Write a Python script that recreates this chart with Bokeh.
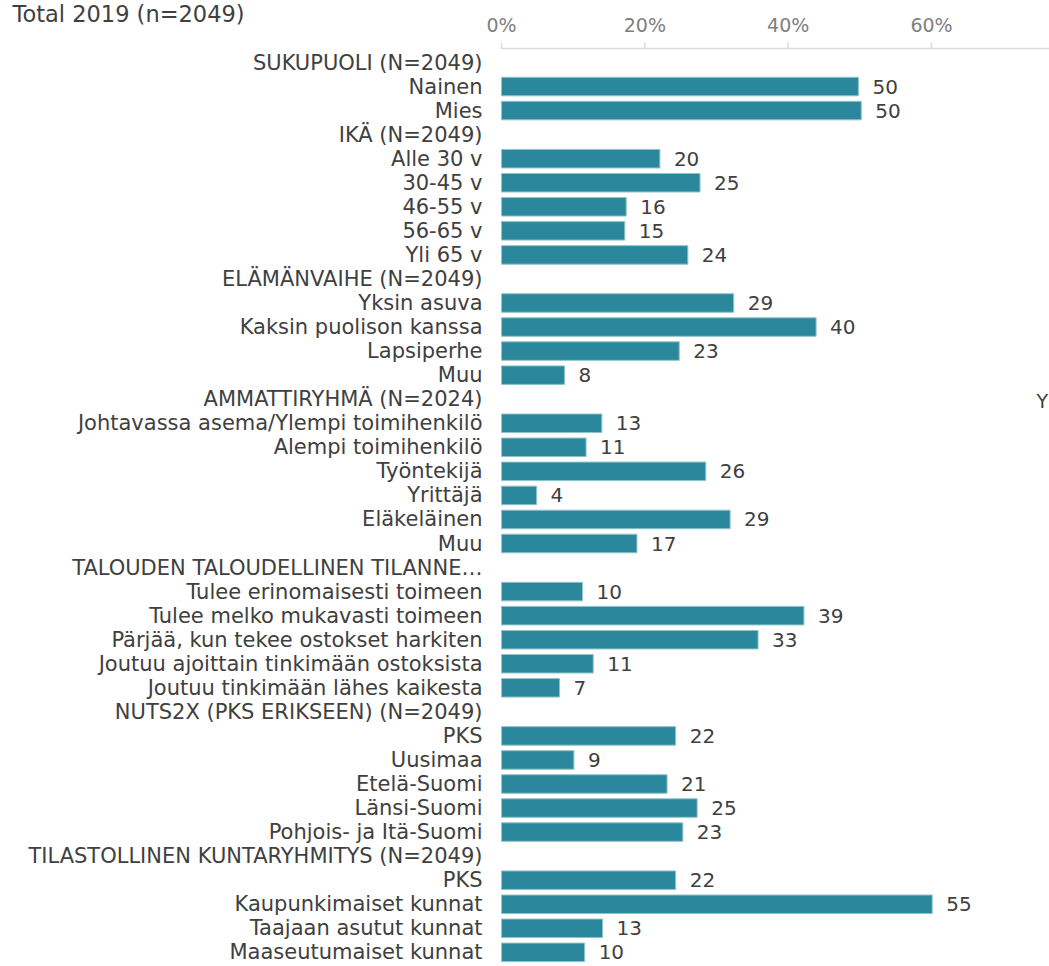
from bokeh.plotting import figure
from bokeh.models import Range1d, ColumnDataSource, Label
from bokeh.embed import file_html
from bokeh.resources import INLINE
from bokeh.core.properties import value

title_text = "Total 2019 (n=2049)"

categories = [
    "SUKUPUOLI (N=2049)", "Nainen", "Mies",
    "IKÄ (N=2049)", "Alle 30 v", "30-45 v", "46-55 v", "56-65 v", "Yli 65 v",
    "ELÄMÄNVAIHE (N=2049)", "Yksin asuva", "Kaksin puolison kanssa", "Lapsiperhe", "Muu",
    "AMMATTIRYHMÄ (N=2024)", "Johtavassa asema/Ylempi toimihenkilö", "Alempi toimihenkilö",
    "Työntekijä", "Yrittäjä", "Eläkeläinen", "Muu",
    "TALOUDEN TALOUDELLINEN TILANNE…", "Tulee erinomaisesti toimeen",
    "Tulee melko mukavasti toimeen", "Pärjää, kun tekee ostokset harkiten",
    "Joutuu ajoittain tinkimään ostoksista", "Joutuu tinkimään lähes kaikesta",
    "NUTS2X (PKS ERIKSEEN) (N=2049)", "PKS", "Uusimaa", "Etelä-Suomi", "Länsi-Suomi",
    "Pohjois- ja Itä-Suomi",
    "TILASTOLLINEN KUNTARYHMITYS (N=2049)", "PKS", "Kaupunkimaiset kunnat",
    "Taajaan asutut kunnat", "Maaseutumaiset kunnat",
]

# bar lengths as drawn (percent on the axis); None = group header
bar_pct = [
    None, 49.8, 50.2,
    None, 22.1, 27.7, 17.4, 17.2, 26.0,
    None, 32.4, 43.9, 24.8, 8.8,
    None, 14.0, 11.8, 28.5, 4.9, 31.9, 18.9,
    None, 11.3, 42.2, 35.8, 12.8, 8.1,
    None, 24.3, 10.1, 23.1, 27.3, 25.3,
    None, 24.3, 60.1, 14.1, 11.6,
]

# value labels shown next to the bars
value_labels = [
    None, 50, 50,
    None, 20, 25, 16, 15, 24,
    None, 29, 40, 23, 8,
    None, 13, 11, 26, 4, 29, 17,
    None, 10, 39, 33, 11, 7,
    None, 22, 9, 21, 25, 23,
    None, 22, 55, 13, 10,
]

x_ticks = [0, 20, 40, 60]
x_tick_labels = ["0%", "20%", "40%", "60%"]

BAR = "#2b889c"
TXT = "#404040"
AXIS = "#d9d9d9"
TICKTXT = "#808080"
FONT = "DejaVu Sans"

W, H = 1049, 966
# layout (pixels): zero of the value axis, pixels per percent, first row centre, row pitch
X0_PX, PX_PER_PCT = 501.0, 7.1667
ROW0_PX, ROW_PX = 62.0, 24.05


def row_at(px):
    return (px - ROW0_PX) / ROW_PX


rows = list(range(len(categories)))
idx = [i for i in rows if bar_pct[i] is not None]
bars = ColumnDataSource(dict(
    y=idx,
    v=[bar_pct[i] for i in idx],
    lab=[str(value_labels[i]) for i in idx],
))
cats = ColumnDataSource(dict(y=rows, x=[0] * len(rows), t=categories))

p = figure(
    width=W, height=H,
    x_range=Range1d(-X0_PX / PX_PER_PCT, (W - X0_PX) / PX_PER_PCT),
    y_range=Range1d(row_at(H), row_at(0)),
    output_backend="svg", toolbar_location=None,
    x_axis_location=None, y_axis_location=None,
    min_border=0,
)
p.outline_line_color = None
p.xgrid.visible = False
p.ygrid.visible = False

# bars
p.hbar(y="y", right="v", left=0, height=0.77, source=bars,
       fill_color=BAR, line_color="#8fc3cf", line_width=1)

# value labels
p.text(x="v", y="y", text="lab", source=bars, x_offset=14, y_offset=0,
       text_align="left", text_baseline="middle",
       text_font=value(FONT), text_font_size="20px", text_color=TXT)

# category labels
p.text(x="x", y="y", text="t", source=cats, x_offset=-19,
       text_align="right", text_baseline="middle",
       text_font=value(FONT), text_font_size="21px", text_color=TXT)

# top value axis: line, ticks and tick labels
axis_y = row_at(48)
tick_top = row_at(42)
p.segment(x0=[0], x1=[(W - X0_PX) / PX_PER_PCT], y0=[axis_y], y1=[axis_y],
          line_color=AXIS, line_width=1.5)
p.segment(x0=x_ticks, x1=x_ticks, y0=[axis_y] * len(x_ticks), y1=[tick_top] * len(x_ticks),
          line_color=AXIS, line_width=1.5)
p.text(x=x_ticks, y=[row_at(24)] * len(x_ticks), text=x_tick_labels,
       text_align="center", text_baseline="middle",
       text_font=value(FONT), text_font_size="19px", text_color=TICKTXT)

# title and the cut-off text at the right edge
p.add_layout(Label(x=12, y=0, x_units="canvas", y_units="canvas", text=title_text,
                   text_font=FONT, text_font_size="22.5px", text_color=TXT,
                   text_baseline="top"))
p.add_layout(Label(x=1036, y=389, x_units="canvas", y_units="canvas", text="Y",
                   text_font=FONT, text_font_size="19px", text_color=TXT,
                   text_baseline="top"))

open("out.html", "w").write(file_html(p, INLINE))
